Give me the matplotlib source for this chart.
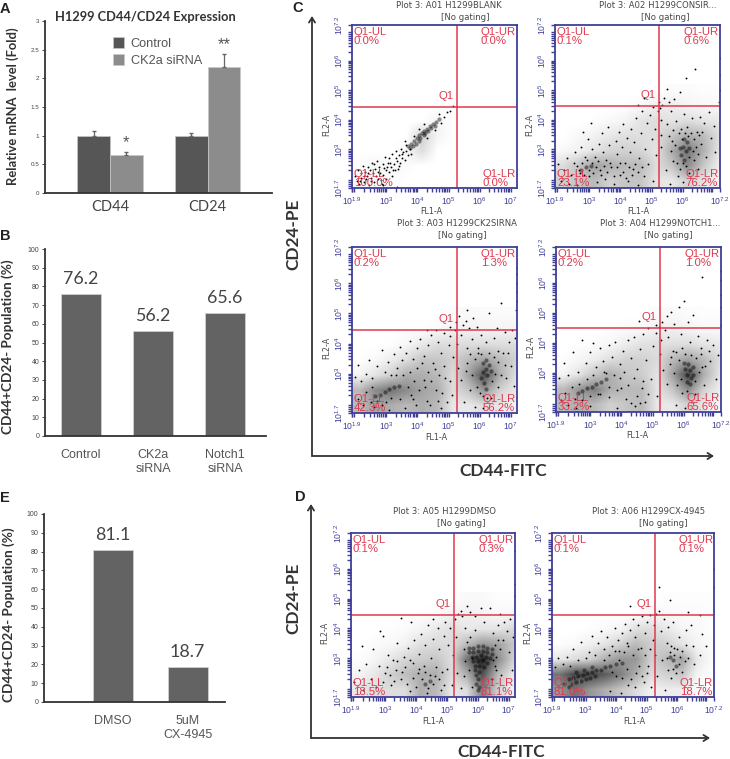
import numpy as np
import matplotlib
matplotlib.use('Agg')
import matplotlib.pyplot as plt
from matplotlib.colors import LinearSegmentedColormap

W, H = 730, 759

# --- bar data ---
A_GROUPS = ['CD44', 'CD24']
A_CONTROL = [1.0, 1.0]
A_CK2A = [0.67, 2.19]
A_CONTROL_ERR = [0.09, 0.05]
A_CK2A_ERR = [0.05, 0.24]
A_STARS = ['*', '**']

B_LABELS = ['Control', 'CK2a\nsiRNA', 'Notch1\nsiRNA']
B_VALUES = [76.2, 56.2, 65.6]

E_LABELS = ['DMSO', '5uM\nCX-4945']
E_VALUES = [81.1, 18.7]

# --- flow plots: text ---
TITLES = ['Plot 3: A01 H1299BLANK', 'Plot 3: A02 H1299CONSIR...', 'Plot 3: A03 H1299CK2SIRNA',
          'Plot 3: A04 H1299NOTCH1...', 'Plot 3: A05 H1299DMSO', 'Plot 3: A06 H1299CX-4945']
PCT_UL = ['0.0%', '0.1%', '0.2%', '0.2%', '0.1%', '0.1%']
PCT_UR = ['0.0%', '0.6%', '1.3%', '1.0%', '0.3%', '0.1%']
PCT_LL = ['100.0%', '23.1%', '42.3%', '33.2%', '18.5%', '81.0%']
PCT_LR = ['0.0%', '76.2%', '56.2%', '65.6%', '81.1%', '18.7%']
LAST_X = ['7', '7.2', '7', '7.2', '7', '7.2']

# density read by eye: rows FL2 4.95 -> 1.95, columns FL1 2.15 -> 7.15 (0.5 decade cells)
GRID_A01 = [[0, 0, 0, 0, 0, 0, 0, 0, 0, 0, 0],
            [0, 0, 0, 0, 0, 0, 0, 0, 0, 0, 0],
            [0, 0, 0, 0, 0, .05, 0, 0, 0, 0, 0],
            [0, 0, 0, 0, .2, .05, 0, 0, 0, 0, 0],
            [0, 0, 0, .04, .15, 0, 0, 0, 0, 0, 0],
            [.02, .04, .04, .02, 0, 0, 0, 0, 0, 0, 0],
            [.03, .04, .02, 0, 0, 0, 0, 0, 0, 0, 0]]
GRID_A02 = [[0, 0, 0, 0, 0, 0, 0, .02, .02, .01, .01],
            [0, 0, 0, 0, .01, .03, .08, .08, .05, .04, .03],
            [0, 0, .01, .03, .05, .12, .15, .12, .15, .12, .1],
            [0, .03, .06, .1, .14, .14, .15, .25, .35, .3, .15],
            [.03, .06, .12, .18, .2, .18, .12, .35, .6, .35, .12],
            [.15, .25, .4, .35, .3, .3, .15, .25, .5, .25, .08],
            [.2, .25, .3, .2, .25, .25, .12, .1, .2, .12, .05]]
GRID_A03 = [[0, 0, 0, 0, 0, 0, .02, .03, .02, .02, .02],
            [0, 0, 0, .01, .01, .03, .06, .06, .05, .05, .05],
            [0, 0, .01, .04, .1, .15, .15, .15, .15, .15, .15],
            [.01, .03, .08, .15, .25, .25, .2, .3, .4, .3, .2],
            [.05, .12, .2, .35, .35, .3, .15, .4, .75, .35, .15],
            [.3, .5, .6, .5, .4, .35, .15, .25, .45, .2, .1],
            [.3, .4, .35, .3, .35, .3, .1, .1, .15, .1, .05]]
GRID_A04 = [[0, 0, 0, 0, 0, 0, .02, .03, .02, .01, .01],
            [0, 0, 0, .01, .02, .03, .07, .07, .05, .03, .03],
            [0, .01, .02, .04, .08, .13, .14, .14, .15, .12, .1],
            [.01, .04, .08, .14, .2, .2, .16, .3, .4, .3, .15],
            [.05, .12, .25, .35, .25, .22, .12, .4, .8, .35, .12],
            [.3, .45, .55, .35, .3, .3, .12, .25, .5, .2, .08],
            [.3, .35, .3, .2, .25, .3, .1, .1, .2, .1, .04]]
GRID_A05 = [[0, 0, 0, 0, 0, 0, 0, .03, .03, .01, .01],
            [0, 0, 0, 0, .01, .02, .06, .07, .05, .03, .04],
            [0, 0, .01, .02, .05, .1, .14, .1, .12, .12, .18],
            [0, .02, .03, .06, .14, .16, .15, .3, .45, .4, .25],
            [.01, .04, .1, .18, .22, .25, .15, .6, .95, .5, .2],
            [.05, .1, .2, .28, .35, .35, .15, .35, .75, .3, .1],
            [.1, .15, .15, .15, .35, .3, .1, .15, .55, .2, .05]]
GRID_A06 = [[0, 0, 0, 0, 0, 0, 0, .01, .01, .01, .01],
            [0, 0, 0, 0, 0, .01, .04, .03, .02, .02, .01],
            [0, 0, .01, .03, .05, .14, .15, .1, .05, .03, .01],
            [.01, .03, .07, .12, .2, .3, .22, .2, .12, .05, .02],
            [.1, .15, .2, .35, .45, .45, .2, .3, .4, .1, .02],
            [.6, .8, .8, .7, .55, .35, .15, .2, .25, .05, .01],
            [.45, .6, .45, .35, .25, .15, .06, .08, .08, .02, 0]]

# thick parts of the clouds
CORE_A01 = [(3.7, 3.12), (3.75, 3.05), (3.8, 3.2), (3.85, 3.12), (3.9, 3.28), (3.95, 3.2), (4.0, 3.38), (4.05, 3.3),
            (4.05, 3.48), (4.1, 3.4), (4.15, 3.55), (4.2, 3.48), (4.2, 3.62), (4.25, 3.55), (4.3, 3.7), (4.35, 3.62),
            (4.4, 3.78), (4.45, 3.72), (4.5, 3.85), (4.55, 3.8), (4.6, 3.93), (4.7, 4.02)]
CORE_A02 = [(6.0, 3.1), (6.1, 2.95), (6.15, 3.25), (5.95, 2.8), (6.05, 3.35), (5.9, 3.05), (6.2, 3.05), (6.05, 2.65),
            (2.9, 2.4), (3.05, 2.45), (2.75, 2.3)]
CORE_A03 = [(6.2, 3.15), (6.25, 2.95), (6.1, 3.35), (6.15, 2.7), (6.3, 3.3), (6.1, 3.05), (6.2, 3.45), (6.05, 2.85),
            (6.35, 3.1), (6.2, 2.5), (2.95, 2.4), (3.1, 2.5), (3.25, 2.55), (3.4, 2.6), (2.8, 2.3), (2.65, 2.25)]
CORE_A04 = [(6.2, 3.1), (6.25, 2.85), (6.15, 3.3), (6.1, 2.95), (6.3, 3.2), (6.05, 3.15), (6.2, 2.65), (6.3, 2.95),
            (6.1, 2.7), (6.0, 3.35), (3.2, 2.65), (3.05, 2.55), (2.9, 2.5), (2.75, 2.4), (3.35, 2.7), (3.5, 2.8),
            (2.6, 2.35)]
CORE_A05 = [(5.7, 3.35), (5.85, 3.35), (6.0, 3.4), (6.15, 3.4), (6.3, 3.35), (6.45, 3.3), (5.7, 3.2), (5.85, 3.2),
            (6.0, 3.25), (6.15, 3.25), (6.3, 3.2), (6.45, 3.15), (5.8, 3.05), (5.95, 3.05), (6.1, 3.1), (6.25, 3.05),
            (6.4, 3.0), (5.85, 2.9), (6.0, 2.9), (6.15, 2.95), (6.3, 2.85), (5.9, 2.75), (6.05, 2.75), (6.2, 2.7),
            (5.9, 2.6), (6.05, 2.55), (5.95, 2.45), (6.0, 2.3), (5.95, 2.15), (6.05, 2.05), (6.0, 1.92), (4.3, 2.15),
            (4.45, 2.25)]
CORE_A06 = [(2.3, 2.15), (2.45, 2.3), (2.6, 2.35), (2.75, 2.4), (2.9, 2.45), (3.05, 2.5), (3.2, 2.55), (3.35, 2.6),
            (3.5, 2.62), (2.55, 2.15), (2.7, 2.2), (2.85, 2.25), (3.0, 2.3), (3.15, 2.35), (3.3, 2.4), (2.45, 2.05),
            (2.7, 2.55), (2.95, 2.6), (3.2, 2.7), (3.65, 2.7), (3.8, 2.75), (4.0, 2.8), (4.2, 2.85), (5.85, 2.95),
            (5.95, 2.75), (5.75, 3.05)]

# single events
DOTS_A01 = [(2.0, 2.1), (2.05, 1.95), (2.1, 2.3), (2.12, 1.85), (2.18, 2.2), (2.2, 2.05), (2.25, 2.45), (2.3, 1.9),
            (2.32, 2.25), (2.38, 2.1), (2.4, 2.4), (2.45, 1.8), (2.47, 2.3), (2.5, 2.05), (2.55, 2.55), (2.58, 2.2),
            (2.6, 1.9), (2.65, 2.35), (2.68, 2.1), (2.7, 2.6), (2.72, 2.0), (2.78, 2.4), (2.8, 2.2), (2.85, 1.85),
            (2.88, 2.5), (2.9, 2.15), (2.95, 2.75), (2.98, 2.3), (3.0, 2.0), (3.05, 2.55), (3.08, 2.25), (3.1, 2.7),
            (3.15, 2.4), (3.18, 2.1), (3.2, 2.85), (3.25, 2.5), (3.28, 2.3), (3.3, 2.95), (3.35, 2.6), (3.38, 2.35),
            (3.4, 2.8), (3.45, 2.55), (3.48, 3.0), (3.5, 2.7), (3.55, 2.9), (3.6, 2.65), (3.62, 3.15), (3.7, 2.8),
            (3.75, 3.0), (3.8, 2.85), (3.9, 3.45), (4.05, 3.7), (4.2, 3.85), (3.6, 3.3), (4.3, 3.4), (4.55, 3.65),
            (4.7, 4.2), (4.85, 4.1), (4.95, 4.25), (5.05, 4.3), (5.15, 4.48), (3.35, 1.75), (2.9, 1.8), (4.75, 3.9),
            (2.15, 1.92), (2.28, 2.12), (2.42, 2.2), (2.52, 1.95), (2.62, 2.5), (2.75, 2.25), (2.82, 1.98), (2.92, 2.38),
            (3.02, 2.42), (3.12, 2.55), (3.22, 2.32), (3.32, 2.72), (3.42, 2.45), (3.52, 2.85), (3.65, 2.95), (2.35, 2.0)]
DOTS_A02 = [(2.0, 2.5), (2.1, 1.95), (2.2, 2.3), (2.3, 2.7), (2.35, 1.85), (2.4, 2.15), (2.5, 2.55), (2.55, 2.9),
            (2.6, 1.8), (2.7, 2.2), (2.75, 3.1), (2.8, 3.6), (2.85, 2.75), (2.95, 3.35), (3.0, 2.1), (3.05, 3.9),
            (3.1, 3.0), (3.2, 2.75), (3.25, 1.9), (3.3, 3.2), (3.35, 2.3), (3.4, 3.55), (3.45, 2.9), (3.5, 2.0),
            (3.55, 2.65), (3.6, 3.75), (3.65, 3.15), (3.7, 2.4), (3.8, 1.85), (3.85, 3.3), (3.9, 2.85), (3.95, 3.6),
            (4.0, 2.15), (4.05, 3.1), (4.1, 3.85), (4.15, 2.55), (4.2, 3.4), (4.25, 1.95), (4.3, 2.9), (4.35, 3.7),
            (4.4, 2.35), (4.45, 3.25), (4.5, 4.05), (4.55, 1.8), (4.6, 2.7), (4.65, 3.55), (4.7, 4.3), (4.75, 2.1),
            (4.8, 3.0), (4.85, 3.9), (4.9, 2.5), (4.95, 4.15), (5.0, 3.35), (5.05, 1.95), (5.1, 3.7), (5.15, 2.8),
            (5.2, 4.3), (5.25, 4.6), (5.3, 3.5), (5.3, 4.0), (5.32, 3.1), (5.28, 4.4), (5.35, 4.5), (5.4, 4.75),
            (5.45, 2.3), (5.5, 3.85), (5.55, 4.6), (5.6, 1.85), (5.62, 4.3), (5.65, 3.3), (5.7, 2.6), (5.72, 4.7),
            (5.8, 3.95), (5.85, 2.1), (5.9, 4.95), (5.95, 3.7), (6.0, 1.9), (6.05, 4.2), (6.1, 5.4), (6.15, 3.75),
            (6.2, 2.2), (6.3, 4.05), (6.35, 2.65), (6.4, 5.7), (6.45, 3.6), (6.5, 2.35), (6.55, 4.1), (6.6, 3.2),
            (6.7, 3.9), (6.75, 2.75), (6.85, 4.25), (6.9, 3.4), (7.0, 3.8), (7.05, 2.9), (7.18, 4.6), (7.19, 5.5),
            (7.19, 6.1), (7.19, 5.0), (4.75, 4.75), (4.55, 4.5), (5.05, 4.45), (5.5, 5.05),
            (2.6, 2.45), (2.68, 2.3), (2.78, 2.55), (2.82, 2.15), (2.92, 2.65), (2.98, 2.3), (3.08, 2.55), (3.12, 2.2),
            (3.22, 2.4), (3.28, 2.62), (3.38, 2.15), (3.48, 2.45), (3.58, 2.25), (3.68, 2.55), (3.78, 2.1), (3.88, 2.4),
            (3.98, 2.55), (4.08, 2.25), (4.18, 2.05), (4.28, 2.4), (4.38, 2.15), (4.48, 2.5), (4.58, 2.25), (4.68, 2.4),
            (5.55, 3.45), (5.62, 2.95), (5.68, 3.65), (5.75, 3.15), (5.82, 2.55), (5.88, 3.55), (5.92, 2.35), (5.98, 3.35),
            (6.02, 2.55), (6.08, 3.55), (6.12, 2.45), (6.18, 3.45), (6.22, 2.75), (6.28, 3.55), (6.32, 2.95), (6.38, 3.35),
            (6.42, 3.1), (6.48, 2.85), (6.52, 3.5), (6.62, 3.6)]
DOTS_A03 = [(2.0, 2.9), (2.1, 3.3), (2.2, 2.75), (2.35, 3.0), (2.45, 3.45), (2.55, 2.85), (2.7, 3.25), (2.85, 3.8),
            (2.95, 3.05), (3.05, 3.4), (3.15, 2.95), (3.25, 3.65), (3.35, 3.2), (3.45, 3.9), (3.5, 3.45), (3.6, 1.85),
            (3.65, 3.7), (3.75, 4.1), (3.85, 3.5), (3.95, 1.95), (4.0, 3.85), (4.1, 4.15), (4.2, 3.6), (4.3, 2.1),
            (4.35, 3.95), (4.45, 4.3), (4.5, 3.35), (4.6, 2.45), (4.65, 4.05), (4.75, 3.7), (4.85, 4.35), (4.9, 2.85),
            (5.0, 3.95), (5.05, 4.25), (5.1, 2.3), (5.15, 3.55), (5.2, 4.45), (5.25, 4.7), (5.27, 4.0), (5.3, 3.2),
            (5.35, 4.9), (5.4, 4.3), (5.45, 4.6), (5.5, 2.05), (5.55, 4.75), (5.6, 3.85), (5.65, 4.5), (5.7, 2.45),
            (5.75, 4.15), (5.8, 4.85), (5.85, 1.9), (5.9, 4.55), (5.95, 3.85), (6.05, 4.3), (6.1, 1.85), (6.2, 4.05),
            (6.3, 5.0), (6.35, 2.2), (6.45, 4.2), (6.55, 4.5), (6.6, 2.55), (6.7, 5.35), (6.75, 3.7), (6.8, 4.4),
            (6.85, 2.85), (6.95, 4.05), (7.0, 3.25), (7.05, 4.45), (7.1, 2.6), (7.15, 4.2), (7.18, 5.1), (7.19, 5.4),
            (7.19, 5.7), (7.19, 6.0), (7.19, 6.3), (7.19, 6.5), (4.3, 4.45), (4.6, 4.45), (5.05, 4.55), (5.6, 5.1),
            (2.6, 1.9), (3.1, 1.8), (3.8, 2.3), (4.2, 2.8), (4.75, 1.85), (5.4, 2.8), (5.55, 3.1), (6.6, 3.4),
            (2.1, 2.15), (2.25, 1.95), (2.35, 2.4), (2.5, 2.05), (2.55, 2.55), (2.7, 2.1), (2.85, 1.95), (3.0, 2.05),
            (3.15, 2.2), (3.3, 2.95), (3.45, 2.15), (3.55, 2.95), (3.7, 2.55), (3.75, 3.05), (3.85, 2.15), (3.9, 2.75),
            (4.0, 3.2), (4.05, 2.45), (4.15, 3.35), (4.25, 2.55), (4.35, 3.05), (4.4, 1.95), (4.45, 2.75), (4.55, 3.15),
            (4.65, 2.1), (4.7, 2.95), (4.8, 2.35), (4.85, 3.25), (4.95, 2.05), (5.05, 2.75), (5.6, 3.35), (5.7, 3.65),
            (5.75, 2.95), (5.85, 3.5), (5.9, 2.55), (5.95, 3.7), (6.0, 2.35), (6.05, 3.65), (6.1, 2.25), (6.25, 2.2),
            (6.3, 3.7), (6.4, 2.75), (6.45, 3.55), (6.5, 3.0), (6.6, 3.75), (6.7, 2.95), (6.8, 3.3), (6.9, 3.7)]
DOTS_A04 = [(2.0, 2.85), (2.15, 3.35), (2.3, 2.95), (2.45, 3.7), (2.6, 3.05), (2.75, 4.1), (2.85, 3.35), (3.0, 3.7),
            (3.1, 4.0), (3.2, 3.2), (3.3, 3.85), (3.4, 3.4), (3.5, 3.0), (3.6, 3.95), (3.7, 3.55), (3.8, 4.05),
            (3.85, 1.85), (3.95, 3.3), (4.05, 3.75), (4.15, 2.15), (4.2, 4.1), (4.3, 3.5), (4.4, 4.2), (4.45, 1.9),
            (4.5, 3.15), (4.6, 3.8), (4.65, 2.5), (4.7, 4.3), (4.8, 3.45), (4.85, 4.5), (4.95, 2.8), (5.0, 3.9),
            (5.1, 4.35), (5.15, 2.25), (5.2, 4.55), (5.25, 3.65), (5.27, 4.1), (5.3, 4.7), (5.35, 3.1), (5.45, 4.9),
            (5.5, 4.2), (5.6, 5.05), (5.65, 3.75), (5.7, 4.65), (5.75, 1.95), (5.85, 5.2), (5.9, 4.3), (5.95, 3.85),
            (6.0, 5.4), (6.05, 1.85), (6.15, 4.7), (6.2, 4.05), (6.3, 4.95), (6.35, 2.3), (6.45, 4.25), (6.55, 3.85),
            (6.65, 2.6), (6.75, 4.1), (6.85, 3.4), (6.95, 3.95), (7.05, 2.8), (7.1, 3.6), (7.19, 4.6), (7.19, 5.2),
            (7.19, 5.6), (7.19, 6.1), (7.19, 6.4), (6.6, 6.2), (5.1, 4.6), (4.55, 4.75), (5.4, 4.45), (3.6, 2.2),
            (2.55, 1.85), (3.0, 1.9), (3.3, 2.3), (4.0, 2.5), (4.75, 2.05), (5.45, 2.65), (5.55, 3.3), (6.6, 3.2),
            (2.05, 2.1), (2.2, 2.35), (2.3, 1.95), (2.4, 2.55), (2.5, 2.15), (2.65, 2.65), (2.75, 2.1), (2.9, 2.8),
            (3.0, 2.25), (3.1, 2.95), (3.25, 2.3), (3.45, 3.05), (3.6, 2.55), (3.75, 2.95), (3.85, 2.45), (3.95, 2.85),
            (4.1, 3.05), (4.2, 2.6), (4.3, 2.0), (4.4, 2.85), (4.5, 2.25), (4.6, 2.0), (4.7, 2.75), (4.85, 2.3),
            (5.6, 3.55), (5.7, 3.0), (5.75, 3.7), (5.8, 2.6), (5.85, 3.45), (5.9, 2.8), (5.95, 2.35), (6.05, 3.65),
            (6.1, 2.4), (6.25, 3.6), (6.35, 2.75), (6.4, 3.5), (6.5, 3.05), (6.55, 3.65), (6.7, 3.25), (6.8, 3.75)]
DOTS_A05 = [(2.0, 2.2), (2.15, 2.6), (2.25, 3.4), (2.3, 1.95), (2.4, 2.8), (2.55, 2.3), (2.6, 3.3), (2.7, 2.05),
            (2.8, 2.75), (2.95, 3.75), (3.0, 2.5), (3.1, 3.1), (3.2, 2.1), (3.25, 2.95), (3.35, 2.6), (3.4, 3.5),
            (3.5, 2.3), (3.6, 3.05), (3.65, 2.7), (3.75, 3.35), (3.8, 1.9), (3.9, 2.85), (3.95, 3.6), (4.05, 2.5),
            (4.1, 3.15), (4.15, 3.8), (4.25, 2.75), (4.3, 3.45), (4.35, 1.85), (4.4, 4.1), (4.5, 3.0), (4.55, 3.65),
            (4.6, 2.4), (4.7, 4.0), (4.75, 3.3), (4.8, 1.95), (4.9, 3.75), (4.95, 4.2), (5.0, 2.65), (5.05, 3.45),
            (5.1, 4.0), (5.15, 2.1), (5.2, 3.1), (5.25, 4.3), (5.3, 3.7), (5.33, 2.5), (5.37, 4.5), (5.45, 2.0),
            (5.45, 4.6), (5.55, 2.4), (5.6, 4.0), (5.65, 4.75), (5.75, 4.55), (5.8, 2.05), (5.9, 3.95), (6.1, 4.7),
            (6.2, 4.2), (6.4, 4.7), (6.45, 2.3), (6.5, 3.85), (6.55, 2.75), (6.65, 4.1), (6.75, 2.45), (6.8, 3.6),
            (6.85, 4.2), (6.95, 3.9), (7.0, 3.2), (7.05, 4.3), (7.1, 2.6), (7.15, 3.7), (7.19, 5.1), (7.19, 6.6),
            (7.19, 5.5), (6.7, 4.5), (5.5, 4.4), (4.55, 4.3), (3.85, 4.2), (2.85, 3.9), (3.5, 4.35), (5.9, 4.4),
            (2.95, 2.2), (3.05, 2.7), (3.15, 2.45), (3.3, 2.25), (3.4, 2.9), (3.55, 2.55), (3.7, 2.15), (3.8, 2.95),
            (3.9, 2.35), (4.0, 2.05), (4.1, 2.65), (4.2, 2.3), (4.3, 2.55), (4.4, 2.0), (4.45, 2.45), (4.55, 2.15),
            (4.65, 2.7), (4.75, 2.3), (4.85, 2.55), (4.9, 2.1), (5.55, 3.3), (5.6, 2.9), (5.65, 3.55), (5.7, 2.6),
            (5.75, 3.7), (5.8, 3.0), (6.55, 3.45), (6.6, 3.05), (6.65, 3.6), (6.7, 3.3), (6.5, 2.95), (6.6, 2.6)]
DOTS_A06 = [(2.0, 2.7), (2.1, 3.0), (2.25, 2.8), (2.4, 3.05), (2.5, 2.75), (2.6, 3.3), (2.75, 2.95), (2.85, 3.55),
            (3.0, 3.0), (3.1, 3.2), (3.2, 3.75), (3.3, 3.1), (3.4, 3.5), (3.5, 3.9), (3.6, 3.3), (3.7, 3.7), (3.8, 1.9),
            (3.85, 3.4), (3.95, 4.0), (4.05, 3.6), (4.1, 3.25), (4.15, 1.85), (4.2, 3.85), (4.3, 4.15), (4.35, 3.5),
            (4.4, 2.1), (4.45, 3.95), (4.55, 4.3), (4.6, 3.7), (4.65, 2.5), (4.7, 4.1), (4.8, 3.35), (4.85, 4.4),
            (4.9, 2.2), (4.95, 3.85), (5.0, 4.2), (5.05, 2.75), (5.1, 4.45), (5.2, 3.6), (5.25, 4.1), (5.27, 3.1),
            (5.3, 4.5), (5.35, 2.4), (5.45, 3.9), (5.5, 2.95), (5.55, 4.3), (5.6, 1.95), (5.65, 3.5), (5.7, 4.05),
            (5.75, 3.2), (5.8, 2.35), (5.85, 4.2), (5.9, 3.35), (5.95, 2.5), (6.05, 3.7), (6.1, 3.05), (6.15, 2.55),
            (6.3, 3.95), (6.35, 3.0), (6.45, 4.1), (6.5, 3.4), (6.55, 2.8), (6.75, 3.1), (6.8, 3.8), (6.95, 3.4),
            (6.35, 4.55), (6.75, 4.45), (5.4, 5.4), (5.75, 4.95), (7.19, 6.0), (7.19, 5.4), (4.45, 4.75), (5.4, 4.6),
            (3.6, 2.95), (3.75, 3.1), (3.85, 2.55), (3.95, 3.25), (4.0, 2.4), (4.1, 2.95), (4.2, 2.35), (4.25, 3.2),
            (4.35, 2.65), (4.4, 3.4), (4.5, 2.3), (4.55, 3.1), (4.6, 2.05), (4.7, 3.3), (4.75, 2.75), (4.85, 2.4),
            (4.95, 3.1), (5.0, 2.5), (5.1, 3.3), (5.15, 2.05), (5.65, 3.0), (5.7, 2.6), (5.8, 3.4), (5.85, 2.65),
            (5.9, 3.1), (6.0, 3.3), (6.05, 2.8), (6.15, 3.25), (6.25, 2.9), (6.3, 3.45)]

GRIDS = [GRID_A01, GRID_A02, GRID_A03, GRID_A04, GRID_A05, GRID_A06]
CORES = [CORE_A01, CORE_A02, CORE_A03, CORE_A04, CORE_A05, CORE_A06]
DOTS = [DOTS_A01, DOTS_A02, DOTS_A03, DOTS_A04, DOTS_A05, DOTS_A06]

# pixel layout of the six plots: left, right, top, bottom, gate x, gate y
BOXES = [(352, 517, 25, 188, 457, 107), (555, 720, 25, 188, 659, 106), (352, 517, 247, 413, 457, 330),
         (556, 721, 247, 412, 660, 328), (351, 515, 533, 697, 454, 615), (552, 714, 533, 697, 655, 615)]
# title x, y, no gating x, y, FL1 x, y, FL2 x, y
LABEL_POS = [(449, 5, 465, 17, 431, 212, 327, 125), (658, 5, 665, 17, 638, 211, 530, 125),
             (457, 224, 462, 236, 436, 437, 327, 348), (660, 224, 668, 236, 637, 436, 531, 347),
             (444, 511, 461, 523, 433, 721, 325, 633), (649, 511, 663, 523, 634, 721, 528, 633)]

BLUE = '#3f3f98'
RED = '#dd3a50'
GREY = '#484848'
plt.rcParams['font.family'] = ['Liberation Sans', 'DejaVu Sans']

fig = plt.figure(figsize=(W / 100, H / 100), dpi=100)


def px_axes(left, right, top, bottom):
    return fig.add_axes([left / W, 1 - bottom / H, (right - left) / W, (bottom - top) / H])


def chart_axes(ax, y_max, y_step, tick_size=5):
    ax.set_ylim(0, y_max)
    ax.set_yticks(np.arange(0, y_max + y_step / 2, y_step))
    for side in ['top', 'right']:
        ax.spines[side].set_visible(False)
    for side in ['left', 'bottom']:
        ax.spines[side].set_linewidth(1.3)
        ax.spines[side].set_color('#333333')
    ax.tick_params(axis='y', labelsize=tick_size, length=2, width=0.7, colors='#444444', pad=2)
    ax.tick_params(axis='x', length=0)


def bar_panel(box, centers_px, bar_px, labels, values, ylab_x, ylab_y):
    left, right, top, bottom = box
    ax = px_axes(left, right, top, bottom)
    ax.set_xlim(left, right)
    bars = ax.bar(centers_px, values, width=bar_px, color='#636363', edgecolor='#d0d0d0', linewidth=0.6)
    chart_axes(ax, 100, 10)
    ax.set_xticks(centers_px)
    ax.set_xticklabels(labels, fontsize=9, color='#555555', linespacing=1.25)
    ax.tick_params(axis='x', pad=9)
    ax.bar_label(bars, fmt='%.1f', padding=5, fontsize=12.8, family='Lato', color='#444444')
    fig.text(ylab_x / W, 1 - ylab_y / H, 'CD44+CD24- Population (%)', rotation=90, fontsize=9.8,
             family='Lato', fontweight='bold', color='#333333', ha='center', va='center')


# panel A
ax = px_axes(45, 272, 21, 193)
pos = np.arange(len(A_GROUPS))
ax.set_xlim(-0.667, 1.66)
bars_c = ax.bar(pos - 0.168, A_CONTROL, width=0.336, color='#565656', edgecolor='#c8c8c8', linewidth=0.5,
                label='Control')
bars_k = ax.bar(pos + 0.168, A_CK2A, width=0.336, color='#8c8c8c', edgecolor='#c8c8c8', linewidth=0.5,
                label='CK2a siRNA')
ax.errorbar(pos - 0.168, A_CONTROL, yerr=[[0, 0], A_CONTROL_ERR], fmt='none', ecolor='#666666', elinewidth=0.9,
            capsize=1.5)
ax.errorbar(pos + 0.168, A_CK2A, yerr=[[0, 0], A_CK2A_ERR], fmt='none', ecolor='#666666', elinewidth=0.9,
            capsize=1.5)
chart_axes(ax, 3, 0.5, tick_size=4.5)
ax.set_yticklabels(['0', '0.5', '1', '1.5', '2', '2.5', '3'])
ax.set_xticks(pos)
ax.set_xticklabels(A_GROUPS, fontsize=10.5, family='Lato', color='#444444')
ax.tick_params(axis='x', pad=5)
for i, star in enumerate(A_STARS):
    ax.text(i + 0.168, A_CK2A[i] + A_CK2A_ERR[i] + 0.03, star, ha='center', va='bottom', fontsize=12, color='#555555')
ax.legend(loc='upper left', bbox_to_anchor=(0.27, 0.945), frameon=False, fontsize=9.2, labelcolor='#555555',
          handlelength=0.85, handleheight=0.95, handletextpad=0.55, labelspacing=0.33, borderpad=0)
fig.text(145 / W, 1 - 17 / H, 'H1299 CD44/CD24 Expression', fontsize=9.3, family='Lato', fontweight='bold',
         color='#333333', ha='center', va='center')
fig.text(13 / W, 1 - 106 / H, 'Relative mRNA  level (Fold)', rotation=90, fontsize=9.4, family='Lato',
         fontweight='bold', color='#333333', ha='center', va='center')

# panels B and E
bar_panel((45, 266, 249, 436), [81, 153, 225], 40, B_LABELS, B_VALUES, 8, 347)
bar_panel((44, 225, 514, 702), [113, 187.5], 40, E_LABELS, E_VALUES, 9, 615)

# flow plots
haze = LinearSegmentedColormap.from_list('haze', ['#ffffff', '#000000'])
minor = [d + np.log10(k) for d in range(1, 8) for k in range(2, 10)]
for i, (l, r, t, b, gx, gy) in enumerate(BOXES):
    ax = px_axes(l, r, t, b)
    ax.imshow(GRIDS[i], extent=(1.9, 7.4, 1.7, 5.2), origin='upper', cmap=haze, vmin=0, vmax=1.1,
              interpolation='bilinear', aspect='auto')
    ax.set_xlim(1.9, 7.2)
    ax.set_ylim(1.7, 7.2)
    core_x, core_y = zip(*CORES[i])
    ax.scatter(core_x, core_y, s=9, color='black', alpha=0.45, linewidths=0)
    dot_x, dot_y = zip(*DOTS[i])
    ax.scatter(dot_x, dot_y, s=1.8, color='black', linewidths=0)
    x_gate = 1.9 + (gx - l) / (r - l) * 5.3
    y_gate = 1.7 + (b - gy) / (b - t) * 5.5
    ax.axvline(x_gate, color=RED, lw=1.1)
    ax.axhline(y_gate, color=RED, lw=1.1)
    for s in ax.spines.values():
        s.set_color(BLUE)
        s.set_linewidth(1.3)
    ax.set_xticks([1.9, 3, 4, 5, 6, 7.2 if LAST_X[i] == '7.2' else 7])
    ax.set_xticklabels(['$\\mathregular{10^{%s}}$' % v for v in ['1.9', '3', '4', '5', '6', LAST_X[i]]])
    ax.set_yticks([1.7, 3, 4, 5, 6, 7.2])
    ax.set_yticklabels(['$\\mathregular{10^{%s}}$' % v for v in ['1.7', '3', '4', '5', '6', '7.2']], rotation=90,
                       va='center')
    ax.set_xticks([m for m in minor if 1.9 < m < 7.2], minor=True)
    ax.set_yticks([m for m in minor if 1.7 < m < 7.2], minor=True)
    ax.tick_params(which='both', length=3.2, width=1.0, color=BLUE, labelcolor=BLUE, labelsize=6.2, pad=2)
    ax.text(0.012, 0.985, 'Q1-UL\n' + PCT_UL[i], transform=ax.transAxes, color=RED, fontsize=8.2, va='top',
            linespacing=0.85)
    ax.text(0.78, 0.985, 'Q1-UR\n' + PCT_UR[i], transform=ax.transAxes, color=RED, fontsize=8.2, va='top',
            linespacing=0.85)
    ax.text(0.012, 0.0, 'Q1-LL\n' + PCT_LL[i], transform=ax.transAxes, color=RED, fontsize=8.2, va='bottom',
            linespacing=0.85)
    ax.text(0.79, 0.0, 'Q1-LR\n' + PCT_LR[i], transform=ax.transAxes, color=RED, fontsize=8.2, va='bottom',
            linespacing=0.85)
    ax.text(x_gate - 0.1, y_gate + 0.2, 'Q1', color=RED, fontsize=8.2, ha='right', va='bottom')
    tx, ty, nx, ny, fx, fy, f2x, f2y = LABEL_POS[i]
    fig.text(tx / W, 1 - ty / H, TITLES[i], fontsize=6.1, family='DejaVu Sans', color=GREY, ha='center', va='center')
    fig.text(nx / W, 1 - ny / H, '[No gating]', fontsize=6.1, family='DejaVu Sans', color=GREY, ha='center',
             va='center')
    fig.text(fx / W, 1 - fy / H, 'FL1-A', fontsize=5.8, family='DejaVu Sans', color=GREY, ha='center', va='center')
    fig.text(f2x / W, 1 - f2y / H, 'FL2-A', fontsize=5.8, family='DejaVu Sans', color=GREY, rotation=90, ha='center',
             va='center')

# overlay: arrows, axis names and panel letters
over = fig.add_axes([0, 0, 1, 1], facecolor='none')
over.set_xlim(0, W)
over.set_ylim(H, 0)
over.axis('off')
arrow = dict(arrowstyle='->,head_width=0.22,head_length=0.35', color='#333333', lw=1.3, shrinkA=0, shrinkB=0)
over.annotate('', xy=(312, 16), xytext=(312, 456), arrowprops=arrow)
over.annotate('', xy=(714, 456), xytext=(312, 456), arrowprops=arrow)
over.annotate('', xy=(311, 504), xytext=(311, 738), arrowprops=arrow)
over.annotate('', xy=(710, 738), xytext=(311, 738), arrowprops=arrow)
name_style = dict(family='Lato', fontweight='bold', color='#333333', ha='center', va='center', fontsize=12.4)
over.text(293, 234, 'CD24-PE', rotation=90, **name_style)
over.text(503, 471, 'CD44-FITC', **name_style)
over.text(293, 598, 'CD24-PE', rotation=90, **name_style)
over.text(501, 752, 'CD44-FITC', **name_style)
for letter, x, y in [('A', 5, 9), ('B', 5, 236), ('E', 5, 498), ('C', 298, 8), ('D', 300, 497)]:
    over.text(x, y, letter, fontsize=10.5, fontweight='bold', color='#222222', ha='center', va='center')

fig.savefig('out.png', dpi=100)
